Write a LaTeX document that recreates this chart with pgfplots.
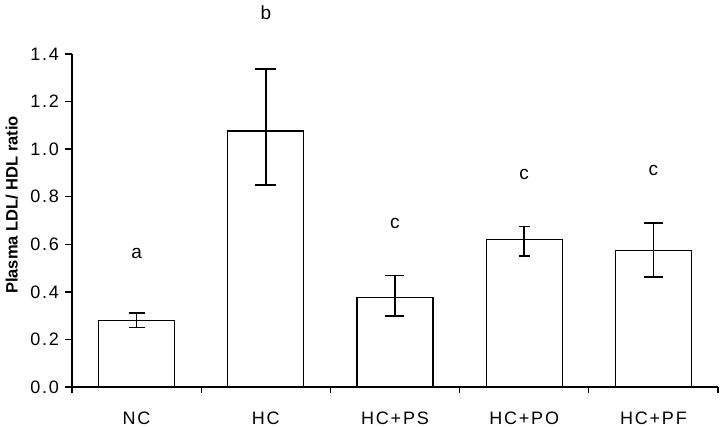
\documentclass[border=0pt]{standalone}
\usepackage{pgfplots}
\pgfplotsset{compat=1.18}
\usepackage{fontspec}
\setmainfont{Liberation Sans}
\newfontfamily\spacedfont[LetterSpace=10]{Liberation Sans}
\begin{document}
\begin{tikzpicture}
\useasboundingbox (-72pt,-40pt) rectangle (649pt,387pt);
\begin{axis}[
  scale only axis,
  width=646pt, height=333pt,
  xmin=-0.5, xmax=4.5,
  ymin=0, ymax=1.4,
  clip=false,
  axis x line*=bottom,
  axis y line*=left,
  axis line style={line width=1.3pt},
  ytick={0,0.2,...,1.4},
  yticklabel style={/pgf/number format/fixed, /pgf/number format/fixed zerofill, /pgf/number format/precision=1, font=\spacedfont\fontsize{18}{18}\selectfont, xshift=-3pt},
  /pgf/number format/assume math mode=true,
  tick style={line width=1.3pt, black},
  tick align=outside,
  major tick length=6.5pt,
  xtick={-0.5,0.5,1.5,2.5,3.5,4.5},
  x tick label as interval,
  xticklabels={NC,HC,HC+PS,HC+PO,HC+PF},
  xticklabel style={font=\spacedfont\fontsize{18}{18}\selectfont, yshift=-15pt},
  ylabel={\bfseries Plasma LDL/ HDL ratio},
  ylabel style={font=\fontsize{16.5}{16.5}\selectfont, at={(axis description cs:-0.093,0.547)}, anchor=center},
  ybar, bar width=76pt,
  mybar/.style={bar shift=0pt, fill=white, draw=black, line width=1.3pt,
    error bars/.cd, y dir=both, y explicit,
    error bar style={line width=1.6pt, black},
    error mark options={rotate=90, mark size=#1, line width=1.6pt, black}},
]
\addplot[mybar=8pt] coordinates {(0,0.281) +- (0,0.031)};
\addplot[mybar=10.5pt] coordinates {(1,1.076) += (0,0.260) -= (0,0.227)};
\addplot[mybar=9.5pt] coordinates {(2,0.375) += (0,0.094) -= (0,0.077)};
\addplot[mybar=5.5pt] coordinates {(3,0.620) += (0,0.054) -= (0,0.070)};
\addplot[mybar=9.5pt] coordinates {(4,0.573) += (0,0.116) -= (0,0.111)};
\node[font=\fontsize{19}{19}\selectfont] at (axis cs:0,0.563) {a};
\node[font=\fontsize{19}{19}\selectfont] at (axis cs:1,1.572) {b};
\node[font=\fontsize{19}{19}\selectfont] at (axis cs:2,0.689) {c};
\node[font=\fontsize{19}{19}\selectfont] at (axis cs:3,0.895) {c};
\node[font=\fontsize{19}{19}\selectfont] at (axis cs:4,0.912) {c};
\end{axis}
\end{tikzpicture}
\end{document}
